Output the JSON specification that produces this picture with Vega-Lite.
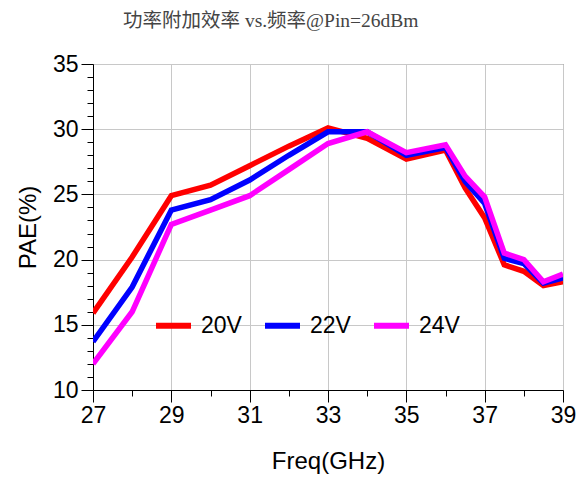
{
  "$schema": "https://vega.github.io/schema/vega-lite/v6.json",
  "autosize": {"type": "none"},
  "width": 470,
  "height": 326,
  "padding": {"left": 93, "top": 64, "right": 22, "bottom": 89},
  "background": "white",
  "title": {
    "text": "功率附加效率 vs.频率@Pin=26dBm",
    "anchor": "start",
    "frame": "group",
    "dx": 30,
    "offset": 22,
    "font": "Liberation Serif, Noto Sans CJK SC",
    "fontSize": 19.5,
    "fontWeight": "normal",
    "color": "#444"
  },
  "config": {
    "view": {"stroke": "#555", "strokeWidth": 1},
    "axis": {
      "labelFont": "Liberation Sans",
      "titleFont": "Liberation Sans",
      "labelFontSize": 23,
      "titleFontSize": 24,
      "titleFontWeight": "normal",
      "labelColor": "black",
      "titleColor": "black",
      "domainColor": "black",
      "tickColor": "black",
      "gridColor": "#c8c8c8",
      "gridWidth": 1
    }
  },
  "data": {
    "values": [
      {"f": 27, "v": 15.9, "s": "20V"},
      {"f": 28, "v": 20.2, "s": "20V"},
      {"f": 29, "v": 24.9, "s": "20V"},
      {"f": 30, "v": 25.7, "s": "20V"},
      {"f": 31, "v": 27.2, "s": "20V"},
      {"f": 32, "v": 28.7, "s": "20V"},
      {"f": 33, "v": 30.1, "s": "20V"},
      {"f": 34, "v": 29.3, "s": "20V"},
      {"f": 35, "v": 27.7, "s": "20V"},
      {"f": 36, "v": 28.4, "s": "20V"},
      {"f": 36.5, "v": 25.5, "s": "20V"},
      {"f": 37, "v": 23.2, "s": "20V"},
      {"f": 37.5, "v": 19.6, "s": "20V"},
      {"f": 38, "v": 19.1, "s": "20V"},
      {"f": 38.5, "v": 18.0, "s": "20V"},
      {"f": 39, "v": 18.3, "s": "20V"},
      {"f": 27, "v": 13.7, "s": "22V"},
      {"f": 28, "v": 17.9, "s": "22V"},
      {"f": 29, "v": 23.8, "s": "22V"},
      {"f": 30, "v": 24.6, "s": "22V"},
      {"f": 31, "v": 26.1, "s": "22V"},
      {"f": 32, "v": 28.0, "s": "22V"},
      {"f": 33, "v": 29.8, "s": "22V"},
      {"f": 34, "v": 29.8, "s": "22V"},
      {"f": 35, "v": 28.0, "s": "22V"},
      {"f": 36, "v": 28.6, "s": "22V"},
      {"f": 36.5, "v": 26.0, "s": "22V"},
      {"f": 37, "v": 24.3, "s": "22V"},
      {"f": 37.5, "v": 20.1, "s": "22V"},
      {"f": 38, "v": 19.7, "s": "22V"},
      {"f": 38.5, "v": 18.2, "s": "22V"},
      {"f": 39, "v": 18.6, "s": "22V"},
      {"f": 27, "v": 12.0, "s": "24V"},
      {"f": 28, "v": 16.0, "s": "24V"},
      {"f": 29, "v": 22.7, "s": "24V"},
      {"f": 30, "v": 23.8, "s": "24V"},
      {"f": 31, "v": 24.9, "s": "24V"},
      {"f": 32, "v": 26.9, "s": "24V"},
      {"f": 33, "v": 28.9, "s": "24V"},
      {"f": 34, "v": 29.8, "s": "24V"},
      {"f": 35, "v": 28.2, "s": "24V"},
      {"f": 36, "v": 28.8, "s": "24V"},
      {"f": 36.5, "v": 26.4, "s": "24V"},
      {"f": 37, "v": 24.8, "s": "24V"},
      {"f": 37.5, "v": 20.5, "s": "24V"},
      {"f": 38, "v": 20.0, "s": "24V"},
      {"f": 38.5, "v": 18.3, "s": "24V"},
      {"f": 39, "v": 18.9, "s": "24V"}
    ]
  },
  "mark": {"type": "line", "strokeWidth": 5.5, "clip": true},
  "encoding": {
    "x": {
      "field": "f",
      "type": "quantitative",
      "scale": {"domain": [27, 39], "nice": false, "zero": false},
      "axis": {
        "title": "Freq(GHz)",
        "values": [27, 28, 29, 30, 31, 32, 33, 34, 35, 36, 37, 38, 39],
        "labelExpr": "datum.value % 2 == 1 ? datum.label : ''",
        "tickSize": {"condition": {"test": "datum.value % 2 == 1", "value": 12}, "value": 6},
        "gridOpacity": {"condition": {"test": "datum.value % 2 == 1", "value": 1}, "value": 0},
        "labelPadding": 2,
        "labelFlush": false,
        "labelOverlap": false,
        "titlePadding": 22
      }
    },
    "y": {
      "field": "v",
      "type": "quantitative",
      "scale": {"domain": [10, 35], "nice": false, "zero": false},
      "axis": {
        "title": "PAE(%)",
        "values": [10, 11, 12, 13, 14, 15, 16, 17, 18, 19, 20, 21, 22, 23, 24, 25, 26, 27, 28, 29, 30, 31, 32, 33, 34, 35],
        "labelExpr": "datum.value % 5 == 0 ? datum.label : ''",
        "tickSize": {"condition": {"test": "datum.value % 5 == 0", "value": 12}, "value": 6},
        "gridOpacity": {"condition": {"test": "datum.value % 5 == 0", "value": 1}, "value": 0},
        "labelPadding": 3,
        "labelFlush": false,
        "labelOverlap": false,
        "titlePadding": 12
      }
    },
    "color": {
      "field": "s",
      "type": "nominal",
      "scale": {"domain": ["20V", "22V", "24V"], "range": ["#ff0000", "#0000ff", "#ff00ff"]},
      "legend": {
        "title": null,
        "orient": "none",
        "direction": "horizontal",
        "legendX": 60,
        "legendY": 241,
        "symbolType": "stroke",
        "symbolSize": 1225,
        "symbolStrokeWidth": 6,
        "labelFont": "Liberation Sans",
        "labelFontSize": 23,
        "labelColor": "black",
        "labelOffset": 7,
        "columnPadding": 11
      }
    }
  }
}
